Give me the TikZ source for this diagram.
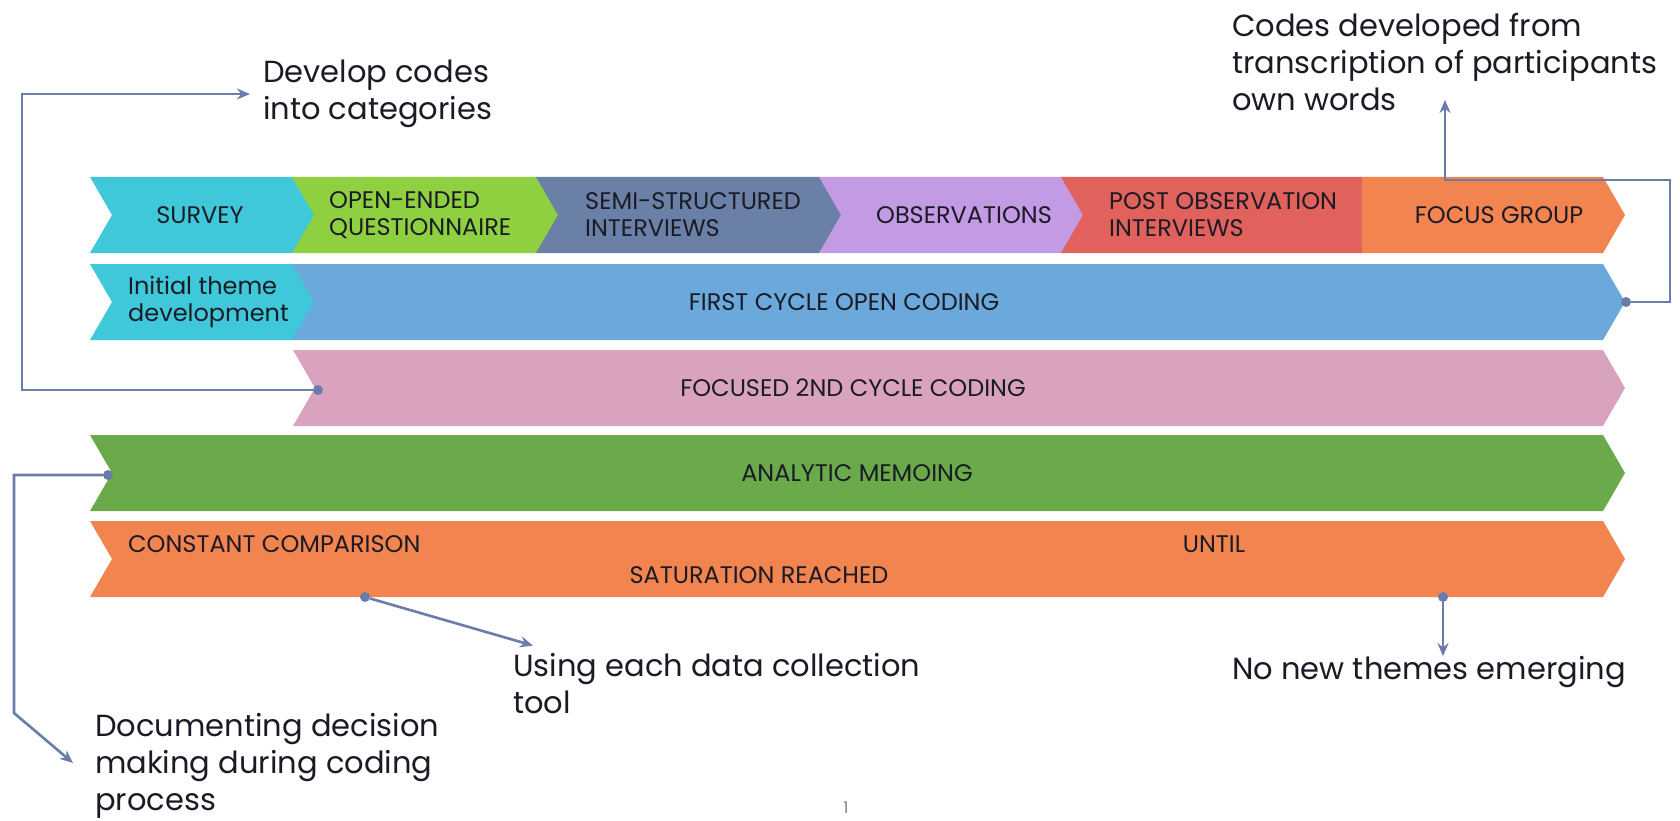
\documentclass[tikz,border=0pt]{standalone}
\usepackage{fontspec}
\setmainfont{Poppins}
\usetikzlibrary{arrows.meta}
\definecolor{ink}{HTML}{1B1B26}
\definecolor{linkc}{HTML}{6A7DAA}
\definecolor{survey}{HTML}{3FC8DA}
\definecolor{openq}{HTML}{8ED03F}
\definecolor{semi}{HTML}{6B80A6}
\definecolor{obs}{HTML}{C29BE4}
\definecolor{postobs}{HTML}{E1615C}
\definecolor{focus}{HTML}{F2844F}
\definecolor{firstc}{HTML}{6BA8DB}
\definecolor{focused}{HTML}{D9A3C0}
\definecolor{memo}{HTML}{6AAA4A}
\definecolor{compare}{HTML}{F2844F}

\begin{document}
\begin{tikzpicture}[x=1pt,y=-1pt,
    lbl/.style={font=\fontsize{24}{27}\selectfont, text=ink, align=left, inner sep=0pt},
    note/.style={font=\fontsize{30.5}{37}\selectfont, text=ink, align=left, inner sep=0pt, anchor=west},
    link/.style={draw=linkc, line width=2.6pt},
    arr/.style={link, -{Stealth[length=13pt,width=11pt]}},
    dot/.style={circle, fill=linkc, inner sep=0pt, minimum size=10pt}]

    \useasboundingbox[fill=white] (0,0) rectangle (1680,821);

    % row 1: data collection tools
    \foreach \a/\b/\c in {90/293/survey,292/537/openq,536/820/semi,819/1062/obs,1061/1362/postobs}
        \fill[\c] (\a,177) -- (\b,177) -- (\b+22,215) -- (\b,253) -- (\a,253) -- (\a+22,215) -- cycle;
    \fill[focus] (1362,177) -- (1603,177) -- (1625,215) -- (1603,253) -- (1362,253) -- cycle;

    % rows 2 to 5
    \foreach \a/\b/\y/\c in {90/293/264/survey,292/1603/264/firstc,293/1603/350/focused,90/1603/435/memo,90/1603/521/compare}
        \fill[\c] (\a,\y) -- (\b,\y) -- (\b+22,\y+38) -- (\b,\y+76) -- (\a,\y+76) -- (\a+22,\y+38) -- cycle;

    \node[lbl] (survey) at (200,215) {SURVEY};
    \node[lbl, anchor=west] (openq) at (329,215) {OPEN-ENDED\\QUESTIONNAIRE};
    \node[lbl, anchor=west] (semi) at (585,215) {SEMI-STRUCTURED\\INTERVIEWS};
    \node[lbl] (obs) at (964,215) {OBSERVATIONS};
    \node[lbl, anchor=west] (postobs) at (1109,215) {POST OBSERVATION\\INTERVIEWS};
    \node[lbl] (focus) at (1499,215) {FOCUS GROUP};

    \node[lbl, anchor=west] (initial) at (128,302) {Initial theme\\development};
    \node[lbl] (firstc) at (844,302) {FIRST CYCLE OPEN CODING};
    \node[lbl] (focused) at (853,388) {FOCUSED 2ND CYCLE CODING};
    \node[lbl] (memo) at (857,473) {ANALYTIC MEMOING};
    \node[lbl, anchor=west] (compare) at (128,544) {CONSTANT COMPARISON};
    \node[lbl] (until) at (1214,544) {UNTIL};
    \node[lbl] (satur) at (759,575) {SATURATION REACHED};

    % notes
    \node[note] (dev) at (263,94) {Develop codes\\into categories};
    \node[note] (codes) at (1232,62) {Codes developed from\\transcription of participants\\own words};
    \node[note] (using) at (513,684) {Using each data collection\\tool};
    \node[note] (nonew) at (1232,672) {No new themes emerging};
    \node[note] (docu) at (95,766) {Documenting decision\\making during coding\\process};

    \node[font=\fontsize{16}{16}\selectfont, text=gray] (pagenum) at (846,808) {1};

    % connectors
    \node[dot] (d1) at (318,390) {};
    \node[dot] (d2) at (1626,302) {};
    \node[dot] (d3) at (108,475) {};
    \node[dot] (d4) at (365,597) {};
    \node[dot] (d5) at (1443,597) {};
    \coordinate (ctip) at (1445,100);

    \draw[arr] (d1) -- (22,390) |- ([xshift=-13pt]dev.west);
    \draw[arr] (d2) -- (1670,302) |- (1445,180) -- (ctip);
    \draw[arr] (d3) -- (14,475) -- (14,713) -- ([xshift=-22pt,yshift=3pt]docu.west);
    \draw[arr] (d4) -- ([shift={(20pt,8pt)}]using.north west);
    \draw[arr] (d5) -- (d5 |- nonew.north);
\end{tikzpicture}
\end{document}
